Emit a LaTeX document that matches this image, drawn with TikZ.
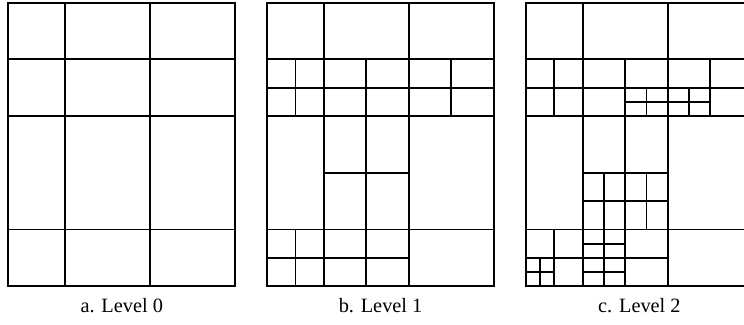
\documentclass[tikz,border=0pt]{standalone}
\usepackage{fontspec}
\setmainfont{Liberation Serif}
\begin{document}
\begin{tikzpicture}[grid/.style={line width=0.95pt,black},
  caption/.style={font=\fontsize{10.2}{12}\selectfont}]
\useasboundingbox (-0.147,-0.684) rectangle (12.975,5.048);
% level 0
\begin{scope}[grid]
\draw (0,0) rectangle (4,5);
\draw (1,0) -- (1,5);
\draw (2.5,0) -- (2.5,5);
\draw (0,4) -- (4,4);
\draw (0,3) -- (4,3);
\draw (0,1) -- (4,1);
\end{scope}
\node[caption] (lvla) at (2,-0.35) {a. Level 0};
% level 1
\begin{scope}[grid,xshift=4.565cm]
\draw (0,0) rectangle (4,5);
\draw (1,0) -- (1,5);
\draw (2.5,0) -- (2.5,5);
\draw (0,4) -- (4,4);
\draw (0,3) -- (4,3);
\draw (0,1) -- (4,1);
\draw (0,3.5) -- (4,3.5);
\draw (0.5,3) -- (0.5,4);
\draw (3.25,3) -- (3.25,4);
\draw (1.75,0) -- (1.75,4);
\draw (1,2) -- (2.5,2);
\draw (0.5,0) -- (0.5,1);
\draw (0,0.5) -- (2.5,0.5);
\node[caption] (lvlb) at (2,-0.35) {b. Level 1};
\end{scope}
% level 2
\begin{scope}[grid,xshift=9.13cm]
\draw (0,0) rectangle (4,5);
\draw (1,0) -- (1,5);
\draw (2.5,0) -- (2.5,5);
\draw (0,4) -- (4,4);
\draw (0,3) -- (4,3);
\draw (0,1) -- (4,1);
\draw (0,3.5) -- (4,3.5);
\draw (0.5,3) -- (0.5,4);
\draw (3.25,3) -- (3.25,4);
\draw (1.75,0) -- (1.75,4);
\draw (1,2) -- (2.5,2);
\draw (0.5,0) -- (0.5,1);
\draw (0,0.5) -- (2.5,0.5);
\draw (1.75,3.25) -- (3.25,3.25);
\draw (2.125,3) -- (2.125,3.5);
\draw (2.875,3) -- (2.875,3.5);
\draw (1,1.5) -- (2.5,1.5);
\draw (1.375,0) -- (1.375,2);
\draw (2.125,1) -- (2.125,2);
\draw (1,0.75) -- (1.75,0.75);
\draw (1,0.25) -- (1.75,0.25);
\draw (0,0.25) -- (0.5,0.25);
\draw (0.25,0) -- (0.25,0.5);
\node[caption] (lvlc) at (2,-0.35) {c. Level 2};
\end{scope}
\end{tikzpicture}
\end{document}
